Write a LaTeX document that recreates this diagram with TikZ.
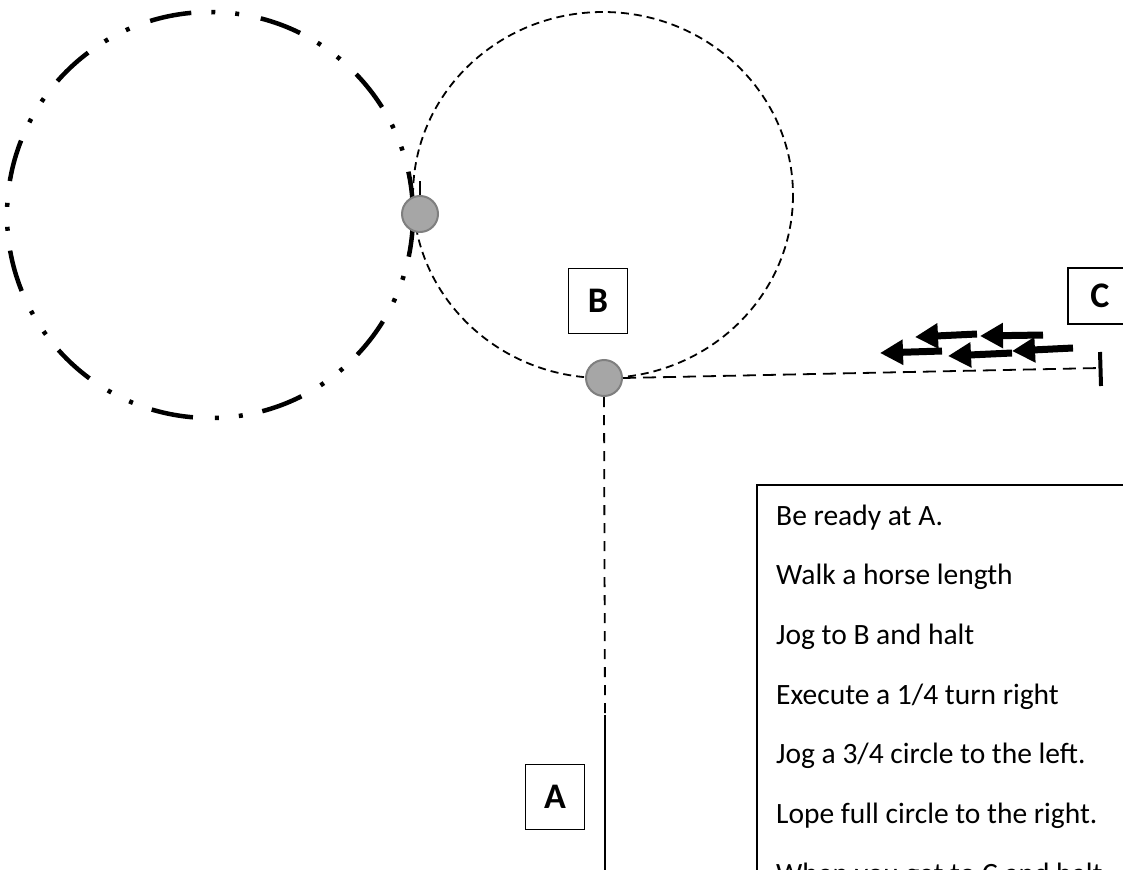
\documentclass[tikz,border=0pt]{standalone}
\usepackage{fontspec}
\setmainfont{Carlito}
\usetikzlibrary{arrows.meta}
\definecolor{dotfill}{HTML}{A6A6A6}
\definecolor{dotdraw}{HTML}{7F7F7F}
\begin{document}
\begin{tikzpicture}[x=1pt,y=-1pt,
  dot/.style={circle, fill=dotfill, draw=dotdraw, line width=2pt, minimum size=36pt, inner sep=0pt},
  lbox/.style={draw, line width=1.5pt, minimum width=59pt, minimum height=65pt, font=\bfseries\fontsize{36}{36}\selectfont, inner sep=0pt},
  txt/.style={anchor=base west, font=\fontsize{29.5}{30}\selectfont, inner sep=0pt},
  lane/.style={line width=1.8pt, dash pattern=on 8pt off 5pt},
  bigarrow/.style={line width=7pt, -{Triangle[length=23pt,width=24pt]}},
]
\useasboundingbox (0,0) rectangle (1123,869);
\clip (0,0) rectangle (1123,869);
% circles
\draw[line width=4.5pt, dash pattern=on 42pt off 20pt on 4pt off 20pt on 4pt off 22pt] (210,215) circle[radius=203];
\draw[lane] (603,195) ellipse[x radius=190, y radius=183];
% dots
\node[dot] (d1) at (420,214) {};
\node[dot] (d2) at (604,378) {};
\draw[line width=1.8pt] (d1.north) -- ++(0,-14);
% lane to C
\coordinate (tick) at (1100,368);
\coordinate (t1) at (1100,352);
\coordinate (t2) at (1101,386);
\draw[line width=1.8pt, dash pattern=on 13pt off 7pt] (d2.east) -- (tick);
\draw[line width=4pt] (t1) -- (t2);
% lane to A
\coordinate (vdash) at (605,715);
\coordinate (vend) at (605,875);
\draw[line width=1.8pt, dash pattern=on 10pt off 8pt] (d2.south) -- (vdash);
\draw[line width=1.5pt] (vdash) -- (vend);
% arrows
\coordinate (a1s) at (977,334); \coordinate (a1e) at (915,337);
\coordinate (a2s) at (1043,335); \coordinate (a2e) at (980,336);
\coordinate (a3s) at (942,351); \coordinate (a3e) at (880,353);
\coordinate (a4s) at (1012,353); \coordinate (a4e) at (948,356);
\coordinate (a5s) at (1073,348); \coordinate (a5e) at (1012,351);
\draw[bigarrow] (a1s) -- (a1e);
\draw[bigarrow] (a2s) -- (a2e);
\draw[bigarrow] (a3s) -- (a3e);
\draw[bigarrow] (a4s) -- (a4e);
\draw[bigarrow] (a5s) -- (a5e);
% letter boxes
\node[lbox] (A) at (555,797) {A};
\node[lbox] (B) at (598,301) {B};
\node[lbox, minimum width=64pt, minimum height=56pt] (C) at (1100,296) {C};
% instruction box
\coordinate (tb1) at (757,485);
\coordinate (tb2) at (1140,900);
\draw[line width=1.5pt] (tb1) rectangle (tb2);
\foreach \t [count=\i] in {Be ready at A., Walk a horse length, Jog to B and halt, Execute a 1/4 turn right, Jog a 3/4 circle to the left., Lope full circle to the right., When you get to C and halt}
  \node[txt] (line\i) at (776, {525+59.7*(\i-1)}) {\t};
\end{tikzpicture}
\end{document}
